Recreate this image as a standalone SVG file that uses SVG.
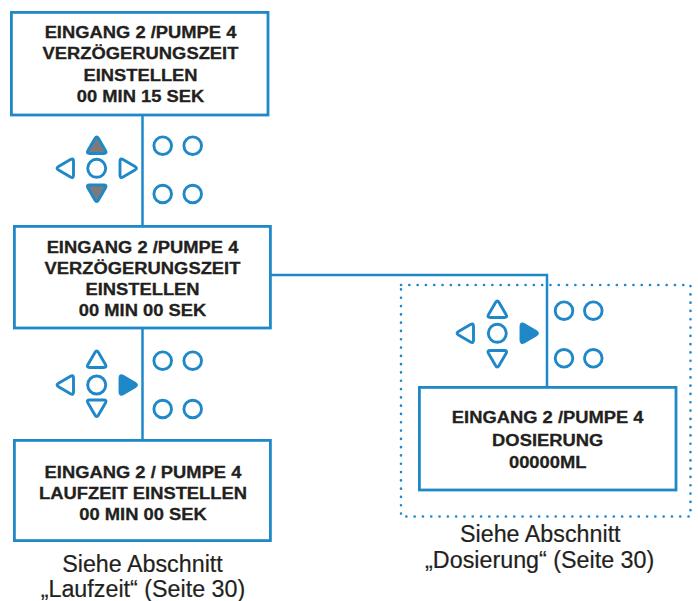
<svg xmlns="http://www.w3.org/2000/svg" xmlns:xlink="http://www.w3.org/1999/xlink" width="698" height="601" viewBox="0 0 698 601">
  <style>
    .box { fill: #ffffff; stroke: #1f88c8; stroke-width: 2.8; }
    .wire { fill: none; stroke: #1f88c8; stroke-width: 2.5; }
    .dotted { fill: none; stroke: #1f88c8; stroke-width: 2.6; stroke-linecap: round; stroke-dasharray: 0.1 8.2; }
    .key { fill: none; stroke: #1f88c8; stroke-width: 2.9; stroke-linejoin: round; }
    .key-grey { fill: #7b7b7b; stroke: #1f88c8; stroke-width: 2.9; stroke-linejoin: round; }
    .key-on { fill: #1f88c8; stroke: #1f88c8; stroke-width: 2.9; stroke-linejoin: round; }
    .lbl { font-family: "Liberation Sans", Arial, sans-serif; font-weight: bold; font-size: 17px; fill: #231f20; stroke: #231f20; stroke-width: 0.3; text-anchor: middle; }
    .cap { font-family: "Liberation Sans", Arial, sans-serif; font-size: 23.3px; fill: #231f20; stroke: #231f20; stroke-width: 0.2; text-anchor: middle; }
  </style>
  <defs>
    <!-- rounded arrow key, pointing up, centred on its origin -->
    <path id="tri" d="M -1.76,-6.98 Q 0,-10 1.76,-6.98 L 8.74,4.98 Q 10.5,8 7,8 L -7,8 Q -10.5,8 -8.74,4.98 Z"/>
  </defs>

  <!-- connectors -->
  <g id="connectors">
    <line class="wire" x1="142.5" y1="115" x2="142.5" y2="226"/>
    <line class="wire" x1="142.5" y1="328" x2="142.5" y2="440"/>
    <polyline class="wire" points="271,275 547,275 547,387"/>
  </g>

  <!-- dotted frame around the dosing branch -->
  <rect id="dosing-frame" class="dotted" x="401" y="285" width="289.5" height="231.5"/>

  <!-- keypad: up/down active -->
  <g id="keypad-1">
    <use xlink:href="#tri" class="key-grey" transform="translate(96.7,145.5)"/>
    <use xlink:href="#tri" class="key-grey" transform="translate(96.7,193) rotate(180)"/>
    <use xlink:href="#tri" class="key" transform="translate(65.5,168.3) rotate(-90)"/>
    <use xlink:href="#tri" class="key" transform="translate(128,168.3) rotate(90)"/>
    <circle class="key" cx="96.7" cy="168.3" r="9"/>
    <circle class="key" cx="162.7" cy="145.7" r="8.8"/>
    <circle class="key" cx="192.7" cy="145.7" r="8.8"/>
    <circle class="key" cx="162.7" cy="194" r="8.8"/>
    <circle class="key" cx="192.7" cy="194" r="8.8"/>
  </g>

  <!-- keypad: right active -->
  <g id="keypad-2">
    <use xlink:href="#tri" class="key" transform="translate(96.7,359.5)"/>
    <use xlink:href="#tri" class="key" transform="translate(96.7,408) rotate(180)"/>
    <use xlink:href="#tri" class="key" transform="translate(65.5,385) rotate(-90)"/>
    <use xlink:href="#tri" class="key-on" transform="translate(128,385) rotate(90)"/>
    <circle class="key" cx="96.7" cy="385" r="9"/>
    <circle class="key" cx="162.7" cy="360.7" r="8.8"/>
    <circle class="key" cx="192.7" cy="360.7" r="8.8"/>
    <circle class="key" cx="162.7" cy="409" r="8.8"/>
    <circle class="key" cx="192.7" cy="409" r="8.8"/>
  </g>

  <!-- keypad: right active (dosing branch) -->
  <g id="keypad-3">
    <use xlink:href="#tri" class="key" transform="translate(497.3,309.5)"/>
    <use xlink:href="#tri" class="key" transform="translate(497.3,358.5) rotate(180)"/>
    <use xlink:href="#tri" class="key" transform="translate(465.5,333.3) rotate(-90)"/>
    <use xlink:href="#tri" class="key-on" transform="translate(529,333.3) rotate(90)"/>
    <circle class="key" cx="497.3" cy="333.3" r="9"/>
    <circle class="key" cx="564" cy="310.7" r="8.8"/>
    <circle class="key" cx="593.3" cy="310.7" r="8.8"/>
    <circle class="key" cx="564" cy="358.3" r="8.8"/>
    <circle class="key" cx="593.3" cy="358.3" r="8.8"/>
  </g>

  <!-- delay time 15 s -->
  <g id="delay-15">
    <rect class="box" x="11.4" y="12.4" width="256.6" height="102.6"/>
    <text class="lbl" transform="translate(140.5,37.5) scale(1.08,1)">EINGANG 2 /PUMPE 4</text>
    <text class="lbl" transform="translate(140.5,58.5) scale(1.08,1)">VERZÖGERUNGSZEIT</text>
    <text class="lbl" transform="translate(140.5,80.5) scale(1.08,1)">EINSTELLEN</text>
    <text class="lbl" transform="translate(140.5,101.5) scale(1.08,1)">00 MIN 15 SEK</text>
  </g>

  <!-- delay time 0 s -->
  <g id="delay-00">
    <rect class="box" x="14.4" y="226.4" width="256" height="101.6"/>
    <text class="lbl" transform="translate(142.5,252.5) scale(1.08,1)">EINGANG 2 /PUMPE 4</text>
    <text class="lbl" transform="translate(142.5,273.5) scale(1.08,1)">VERZÖGERUNGSZEIT</text>
    <text class="lbl" transform="translate(142.5,295) scale(1.08,1)">EINSTELLEN</text>
    <text class="lbl" transform="translate(142.5,315.5) scale(1.08,1)">00 MIN 00 SEK</text>
  </g>

  <!-- run time -->
  <g id="runtime">
    <rect class="box" x="14.4" y="440.4" width="256" height="100.2"/>
    <text class="lbl" transform="translate(143,477.5) scale(1.08,1)">EINGANG 2 / PUMPE 4</text>
    <text class="lbl" transform="translate(143,499) scale(1.08,1)">LAUFZEIT EINSTELLEN</text>
    <text class="lbl" transform="translate(143,520) scale(1.08,1)">00 MIN 00 SEK</text>
    <text class="cap" x="142.5" y="571.5">Siehe Abschnitt</text>
    <text class="cap" x="143" y="596.5">„Laufzeit“ (Seite 30)</text>
  </g>

  <!-- dosing volume -->
  <g id="dosing">
    <rect class="box" x="419.4" y="387.4" width="256.6" height="102.6"/>
    <text class="lbl" transform="translate(547.7,422.7) scale(1.08,1)">EINGANG 2 /PUMPE 4</text>
    <text class="lbl" transform="translate(547.7,445.5) scale(1.08,1)">DOSIERUNG</text>
    <text class="lbl" transform="translate(547.7,467.5) scale(1.08,1)">00000ML</text>
    <text class="cap" x="540.3" y="541.5">Siehe Abschnitt</text>
    <text class="cap" x="539.7" y="568">„Dosierung“ (Seite 30)</text>
  </g>
</svg>
